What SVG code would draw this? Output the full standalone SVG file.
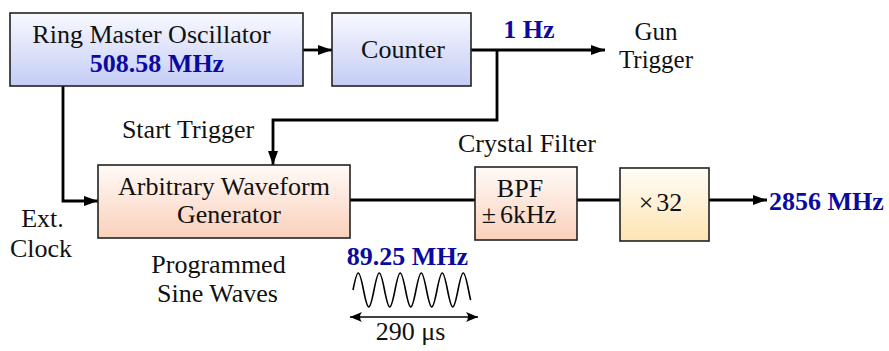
<svg xmlns="http://www.w3.org/2000/svg" width="889" height="351" viewBox="0 0 889 351">
<style>
  .t { font-family: "Liberation Serif", "Times New Roman", serif; font-size: 26px; fill: #111; }
  .b { font-family: "Liberation Serif", "Times New Roman", serif; font-size: 26px; font-weight: bold; fill: #0a0aa0; }
  .s { font-size: 25px; }
  .m { text-anchor: middle; }
  .box { stroke: #222; stroke-width: 1.6; }
  .ln { fill: none; stroke: #000; stroke-width: 2.8; }
  .thin { fill: none; stroke: #000; stroke-width: 1.6; }
</style>
<defs>
  <linearGradient id="gBlue" x1="0" y1="0" x2="0" y2="1">
    <stop offset="0" stop-color="#f8f9ff"/>
    <stop offset="1" stop-color="#c4ccf5"/>
  </linearGradient>
  <linearGradient id="gPeach" x1="0" y1="0" x2="0" y2="1">
    <stop offset="0" stop-color="#fffaf7"/>
    <stop offset="1" stop-color="#fad0bb"/>
  </linearGradient>
  <linearGradient id="gCream" x1="0" y1="0" x2="0" y2="1">
    <stop offset="0" stop-color="#fffdf7"/>
    <stop offset="1" stop-color="#fde4b3"/>
  </linearGradient>
  <marker id="arr" markerUnits="userSpaceOnUse" markerWidth="15" markerHeight="11" refX="14" refY="5" orient="auto">
    <path d="M0,0 L14,5 L0,10 z" fill="#000"/>
  </marker>
  <marker id="sarr" markerUnits="userSpaceOnUse" markerWidth="13" markerHeight="11" refX="12" refY="5" orient="auto-start-reverse">
    <path d="M0,0 Q4,5 0,10 L12,5 z" fill="#000"/>
  </marker>
</defs>

<g id="connectors">
  <path class="ln" d="M303,50 H332" marker-end="url(#arr)"/>
  <path class="ln" d="M471,50 H605" marker-end="url(#arr)"/>
  <path class="ln" d="M497,50 V120 H273 V165" marker-end="url(#arr)"/>
  <path class="ln" d="M63,86 V201 H98" marker-end="url(#arr)"/>
  <path class="ln" d="M350,200 H475"/>
  <path class="ln" d="M577,200 H620"/>
  <path class="ln" d="M709,200 H767" marker-end="url(#arr)"/>
</g>

<g id="osc">
  <rect class="box" x="10" y="13" width="293" height="73" fill="url(#gBlue)"/>
  <text class="t m" x="151.5" y="43">Ring Master Oscillator</text>
  <text class="b m" x="157" y="72">508.58 MHz</text>
</g>

<g id="counter">
  <rect class="box" x="332" y="13" width="139" height="73" fill="url(#gBlue)"/>
  <text class="t m" x="403" y="58">Counter</text>
</g>

<g id="awg">
  <rect class="box" x="98" y="165" width="252" height="73" fill="url(#gPeach)"/>
  <text class="t m" x="224" y="195">Arbitrary Waveform</text>
  <text class="t m" x="229" y="223">Generator</text>
</g>

<g id="bpf">
  <rect class="box" x="475" y="167" width="102" height="73" fill="url(#gPeach)"/>
  <text class="t m" x="520" y="197">BPF</text>
  <text class="t m" x="519" y="223">±<tspan dx="4">6kHz</tspan></text>
</g>

<g id="mult">
  <rect class="box" x="620" y="168" width="89" height="73" fill="url(#gCream)"/>
  <text class="t m" x="660.5" y="211">×<tspan dx="3">32</tspan></text>
</g>

<g id="labels">
  <text class="b m" x="529" y="38">1 Hz</text>
  <text class="t s m" x="656" y="40">Gun</text>
  <text class="t s m" x="656" y="68">Trigger</text>
  <text class="t m" x="188" y="138">Start Trigger</text>
  <text class="t m" x="42.5" y="227">Ext.</text>
  <text class="t m" x="41" y="257">Clock</text>
  <text class="t m" x="218.5" y="273">Programmed</text>
  <text class="t m" x="217.5" y="302">Sine Waves</text>
  <text class="t m" x="527" y="152">Crystal Filter</text>
  <text class="b" x="769" y="210">2856 MHz</text>
  <text class="b m" x="407.5" y="265">89.25 MHz</text>
  <text class="t m" x="410.5" y="340">290 μs</text>
</g>

<g id="waveform">
  <path class="thin" d="M353,290
    c1.755,-8.93 3.379,-17 5.25,-17 c1.871,0 3.495,8.07 5.25,17 c1.755,8.93 3.379,17 5.25,17 c1.871,0 3.495,-8.07 5.25,-17
    c1.755,-8.93 3.379,-17 5.25,-17 c1.871,0 3.495,8.07 5.25,17 c1.755,8.93 3.379,17 5.25,17 c1.871,0 3.495,-8.07 5.25,-17
    c1.755,-8.93 3.379,-17 5.25,-17 c1.871,0 3.495,8.07 5.25,17 c1.755,8.93 3.379,17 5.25,17 c1.871,0 3.495,-8.07 5.25,-17
    c1.755,-8.93 3.379,-17 5.25,-17 c1.871,0 3.495,8.07 5.25,17 c1.755,8.93 3.379,17 5.25,17 c1.871,0 3.495,-8.07 5.25,-17
    c1.755,-8.93 3.379,-17 5.25,-17 c1.871,0 3.495,8.07 5.25,17 c1.755,8.93 3.379,17 5.25,17 c1.871,0 3.495,-8.07 5.25,-17
    c1.755,-8.93 3.379,-17 5.25,-17 c1.871,0 3.495,8.07 5.25,17 c0.7,3.5 1.4,6.9 2.1,10"/>
  <path class="thin" d="M350,317 H478" marker-start="url(#sarr)" marker-end="url(#sarr)"/>
</g>
</svg>
